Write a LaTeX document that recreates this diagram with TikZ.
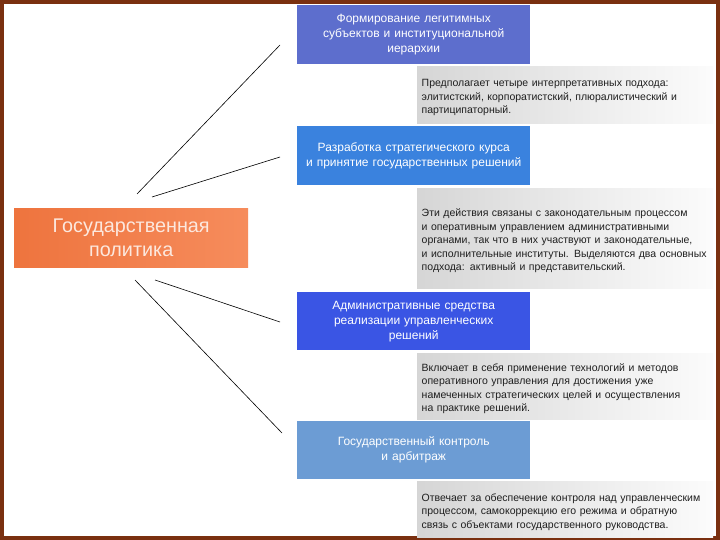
\documentclass[tikz,border=0pt]{standalone}
\usepackage{fontspec}
\setmainfont{Liberation Sans}
\definecolor{framebrown}{RGB}{122,48,16}
\definecolor{headA}{RGB}{93,110,205}
\definecolor{headB}{RGB}{58,130,222}
\definecolor{headC}{RGB}{58,85,228}
\definecolor{headD}{RGB}{108,156,212}
\definecolor{orangeL}{RGB}{238,116,62}
\definecolor{orangeR}{RGB}{246,140,92}
\definecolor{mainText}{RGB}{252,232,222}
\pgfdeclarehorizontalshading{notefill}{100bp}{color(0bp)=(black!24); color(55bp)=(black!7); color(80bp)=(white); color(92bp)=(black!12); color(100bp)=(black!30)}

\begin{document}
\begin{tikzpicture}[x=1pt,y=-1pt,
		head/.style={rectangle, anchor=north west, inner sep=0pt, minimum width=233pt, text width=228pt, align=center, text=white, font=\fontsize{12}{15}\selectfont},
		note/.style={rectangle, anchor=north west, inner xsep=4.5pt, inner ysep=0pt, minimum width=296pt, text width=287pt, text height=13pt, align=left, shading=notefill, text=black!88, font=\fontsize{10.5}{13.4}\selectfont},
		link/.style={black, line width=0.6pt}]
	\useasboundingbox (0,0) rectangle (720,540);
	\fill [white] (0,0) rectangle (720,540);
	\draw [framebrown, line width=4.5pt] (2,2) rectangle (718,538);
	% main node
	\node [rectangle, anchor=north west, inner sep=0pt, minimum width=234pt, minimum height=59pt, text width=230pt, align=center, left color=orangeL, right color=orangeR, text=mainText, font=\fontsize{19.8}{24}\selectfont] (pol) at (14,208) {Государственная\\ политика};
	% headings
	\node [head, fill=headA, minimum height=59pt] (form) at (297,5) {Формирование легитимных\\ субъектов и институциональной\\ иерархии};
	\node [head, fill=headB, minimum height=59pt] (razr) at (297,126) {Разработка стратегического курса\\ и принятие государственных решений};
	\node [head, fill=headC, minimum height=58pt] (admin) at (297,292) {Административные средства\\ реализации управленческих\\ решений};
	\node [head, fill=headD, minimum height=58pt] (kontr) at (297,421) {Государственный контроль\\ и арбитраж};
	% notes
	\node [note, minimum height=57pt] (formNote) at (417,66) {Предполагает четыре интерпретативных подхода:\\ элитистский, корпоратистский, плюралистический и\\ партиципаторный.};
	\node [note, minimum height=100pt] (razrNote) at (417,188) {Эти действия связаны с законодательным процессом\\ и оперативным управлением административными\\ органами, так что в них участвуют и законодательные,\\ и исполнительные институты. Выделяются два основных\\ подхода: активный и представительский.};
	\node [note, minimum height=66pt] (adminNote) at (417,353) {Включает в себя применение технологий и методов\\ оперативного управления для достижения уже\\ намеченных стратегических целей и осуществления\\ на практике решений.};
	\node [note, minimum height=56pt] (kontrNote) at (417,481) {Отвечает за обеспечение контроля над управленческим\\ процессом, самокоррекцию его режима и обратную\\ связь с объектами государственного руководства.};
	% connectors
	\coordinate (formA) at (137,194);
	\coordinate (formB) at (280,45);
	\coordinate (razrA) at (152,197);
	\coordinate (razrB) at (280,157);
	\coordinate (adminA) at (155,280);
	\coordinate (adminB) at (280,322);
	\coordinate (kontrA) at (135,280);
	\coordinate (kontrB) at (282,433);
	\draw [link] (formA) -- (formB);
	\draw [link] (razrA) -- (razrB);
	\draw [link] (adminA) -- (adminB);
	\draw [link] (kontrA) -- (kontrB);
\end{tikzpicture}
\end{document}
